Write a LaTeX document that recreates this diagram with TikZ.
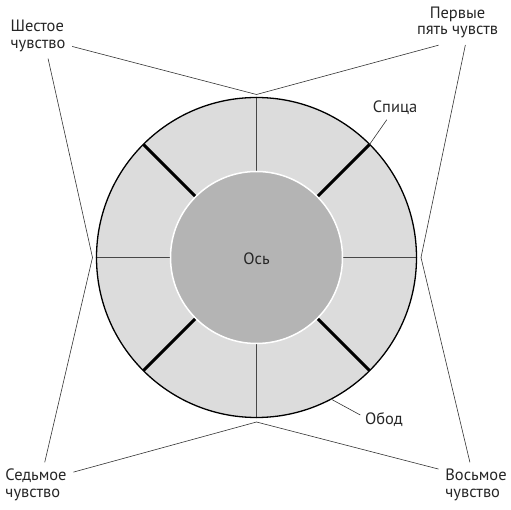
\documentclass[tikz,border=0pt]{standalone}
\usepackage{fontspec}
\setmainfont{PT Sans}
\usetikzlibrary{positioning}
\definecolor{rimgray}{HTML}{DCDCDC}
\definecolor{hubgray}{HTML}{B4B4B4}

\begin{document}
\begin{tikzpicture}[line cap=round,line join=round,x=1bp,y=1bp,
  sense/.style={align=left,font=\fontsize{16.5}{16.6}\selectfont,text=black!85,inner sep=0pt,outer sep=7bp},
  tag/.style={font=\fontsize{16.5}{16.6}\selectfont,text=black!85,inner sep=0pt,outer sep=5bp},
  leader/.style={color=black!80,line width=0.6bp},
  thinspoke/.style={color=black!72,line width=1.7bp},
  thickspoke/.style={color=black,line width=3bp,line cap=butt}]
\useasboundingbox (-256.5,257.5) rectangle (254.5,-252.5);
% wheel
\fill[rimgray] (0,0) circle (160);
\foreach \a in {0,90,180,270}
\draw[thinspoke] (\a:86) -- (\a:160);
\foreach \a in {45,135,225,315}
\draw[thickspoke] (\a:86) -- (\a:160);
\draw[color=black,line width=1.3bp] (0,0) circle (160);
\draw[draw=white,line width=1.5bp,fill=hubgray] (0,0) circle (86);
\node[tag] (hub) at (0,-1) {Ось};
% points round the rim
\coordinate (n) at (90:163);
\coordinate (w) at (180:164);
\coordinate (e) at (0:164.5);
\coordinate (s) at (270:164.5);
\coordinate (spokeend) at (45:160);
\coordinate (rimpt) at (-62:161);
% senses
\node[sense] (sixth) at (-218.5,221.5) {Шестое\\чувство};
\node[sense,align=center] (first) at (201,235) {Первые\\пять чувств};
\node[sense] (seventh) at (-220.5,-227.5) {Седьмое\\чувство};
\node[sense] (eighth) at (219.5,-227.5) {Восьмое\\чувство};
\draw[leader] (sixth.-17) -- (n);
\draw[leader] (sixth.-66) -- (w);
\draw[leader] (first.-130) -- (n);
\draw[leader] (first.-71) -- (e);
\draw[leader] (seventh.19) -- (s);
\draw[leader] (seventh.69) -- (w);
\draw[leader] (eighth.157) -- (s);
\draw[leader] (eighth.105) -- (e);
% parts
\node[tag] (spoke) at (138.5,149.5) {Спица};
\node[tag] (rim) at (127.5,-162.5) {Обод};
\draw[leader] (spoke.-125) -- (spokeend);
\draw[leader] (rim.168) -- (rimpt);
\end{tikzpicture}
\end{document}
